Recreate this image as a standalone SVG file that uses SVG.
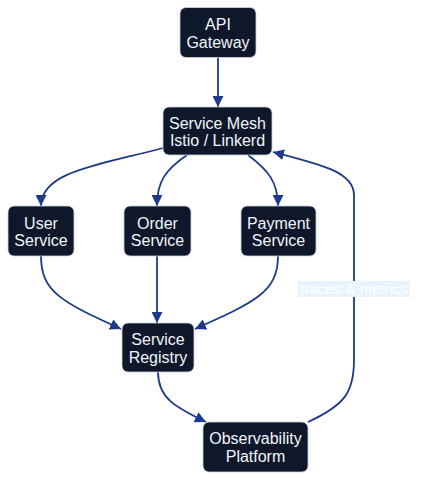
<svg xmlns="http://www.w3.org/2000/svg" width="427" height="489" viewBox="0 0 427 489">
<style>
.node rect{fill:#0f172a;stroke:#cbd5e1;stroke-width:0.8}
.node text{fill:#f1f5f9;font-family:"Liberation Sans",Arial,sans-serif;font-size:16px;text-anchor:middle}
.edge{fill:none;stroke:#1e3a8a;stroke-width:1.8}
.lbl{fill:#ffffff;font-family:"Liberation Sans",Arial,sans-serif;font-size:15px;text-anchor:middle}
</style>
<defs>
<marker id="arr" viewBox="0 0 10 10" refX="10" refY="5" markerWidth="11" markerHeight="11" markerUnits="userSpaceOnUse" orient="auto">
<path d="M0,0 L10,5 L0,10 z" fill="#1e3a8a"/>
</marker>
</defs>
<rect width="427" height="489" fill="#ffffff"/>
<g id="connectors">
<path class="edge" d="M218,57 L218,107" marker-end="url(#arr)"/>
<path class="edge" d="M163,148 C95,166 41,172 41,206" marker-end="url(#arr)"/>
<path class="edge" d="M187,155 C165,170 157,182 157,206" marker-end="url(#arr)"/>
<path class="edge" d="M248,155 C268,170 278,182 278,206" marker-end="url(#arr)"/>
<path class="edge" d="M41,256 C41,292 62,302 121,329" marker-end="url(#arr)"/>
<path class="edge" d="M157,256 L157,323" marker-end="url(#arr)"/>
<path class="edge" d="M278,256 C278,292 255,302 195,329" marker-end="url(#arr)"/>
<path class="edge" d="M158,372 C158,398 175,407 206,422" marker-end="url(#arr)"/>
<path class="edge" d="M308,422 C345,405 354,392 354,360 L354,195 C354,172 320,164 273,152" marker-end="url(#arr)"/>
<g id="edge-label">
<rect x="298" y="281" width="112" height="16" fill="#e8f4fd"/>
<text class="lbl" x="354" y="294">traces &amp; metrics</text>
</g>
</g>
<g id="api" class="node"><rect x="180" y="7.5" width="76" height="50" rx="6"/><text x="218" y="30">API</text><text x="218" y="48">Gateway</text></g>
<g id="mesh" class="node"><rect x="163" y="107" width="109" height="48" rx="6"/><text x="217.5" y="128.5">Service Mesh</text><text x="217.5" y="146">Istio / Linkerd</text></g>
<g id="user" class="node"><rect x="8" y="206" width="66" height="50" rx="6"/><text x="41" y="228.5">User</text><text x="41" y="246">Service</text></g>
<g id="order" class="node"><rect x="124" y="206" width="67" height="50" rx="6"/><text x="157.5" y="228.5">Order</text><text x="157.5" y="246">Service</text></g>
<g id="payment" class="node"><rect x="241" y="206" width="75" height="50" rx="6"/><text x="278.5" y="228.5">Payment</text><text x="278.5" y="246">Service</text></g>
<g id="registry" class="node"><rect x="122" y="323" width="72" height="49" rx="6"/><text x="158" y="345">Service</text><text x="158" y="363">Registry</text></g>
<g id="observability" class="node"><rect x="203" y="422" width="105" height="50" rx="6"/><text x="255.5" y="444">Observability</text><text x="255.5" y="462">Platform</text></g>
</svg>
